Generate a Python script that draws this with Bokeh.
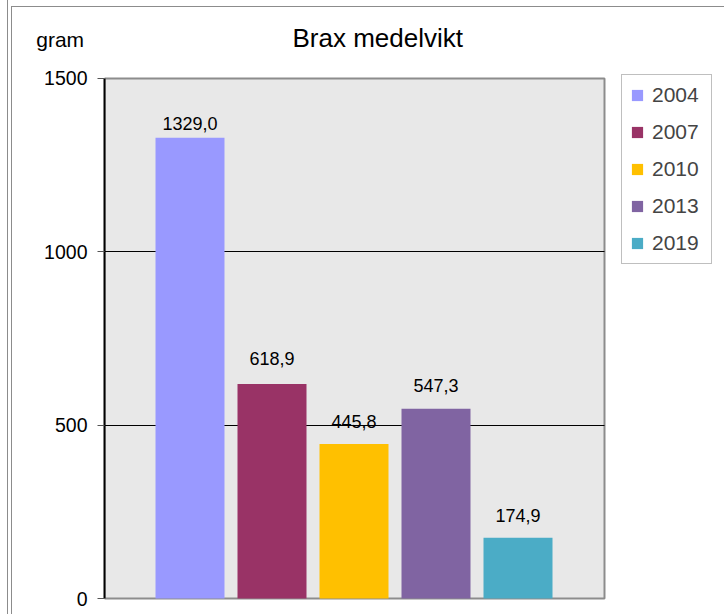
from bokeh.plotting import figure
from bokeh.models import (ColumnDataSource, Range1d, FixedTicker, Legend, LegendItem)
from bokeh.embed import file_html
from bokeh.resources import INLINE

# ---- data ----
years = ["2004", "2007", "2010", "2013", "2019"]
weights = [1329.0, 618.9, 445.8, 547.3, 174.9]
colors = ["#9999ff", "#993366", "#ffc000", "#8064a2", "#4bacc6"]
y_ticks = [0, 500, 1000, 1500]
title_text = "Brax medelvikt"
unit_text = "gram"

# ---- style ----
label_offsets = [14, 25, 22, 23, 22]   # px above bar top to label centre
FONT = "Liberation Sans"
FRAME_GRAY = "#8c8c8c"
PX_PER_CAT = 82          # px per category slot
PLOT_W = 500             # px width of the grey plot area
FRAME_W = 620            # px width of the drawing frame (incl. legend space)
PLOT_H = 521             # px height of the grey plot area
X_START = -85.5 / PX_PER_CAT
X_PLOT_END = X_START + PLOT_W / PX_PER_CAT
X_END = X_START + FRAME_W / PX_PER_CAT
Y_MIN, Y_MAX = min(y_ticks), max(y_ticks)
UNITS_PER_PX = (Y_MAX - Y_MIN) / PLOT_H
Y_START = Y_MIN - 2 * UNITS_PER_PX
Y_END = Y_MAX + 6 * UNITS_PER_PX

src = ColumnDataSource(dict(
    x=list(range(len(years))),
    value=weights,
    year=years,
    color=colors,
    label=[f"{w:.1f}".replace(".", ",") for w in weights],
    yoff=[-o for o in label_offsets],
))

bg = ("linear-gradient(#8c8c8c,#8c8c8c) 7px 0px / 1px 100% no-repeat, "
      "linear-gradient(#8c8c8c,#8c8c8c) 11px 6px / 1px 100% no-repeat, "
      "linear-gradient(#8c8c8c,#8c8c8c) 11px 6px / 100% 1px no-repeat, white")

p = figure(width=724, height=614, output_backend="svg", toolbar_location=None,
           x_range=Range1d(X_START, X_END),
           y_range=Range1d(Y_START, Y_END),
           min_border_left=104, min_border_right=0, min_border_top=0,
           min_border_bottom=14, styles={"background": bg})
p.background_fill_color = None
p.border_fill_color = None
p.outline_line_color = None

# grey plot area with its border
p.quad(left=[X_START], right=[X_PLOT_END], bottom=[Y_MIN], top=[Y_MAX],
       fill_color="#e8e8e8", line_color=FRAME_GRAY, line_width=2, level="image")

r = p.vbar(x="x", top="value", width=69 / PX_PER_CAT, color="color", line_color=None,
           source=src)

p.text(x="x", y="value", text="label", source=src, y_offset="yoff",
       text_align="center", text_baseline="middle", text_font_size="18px",
       text_font={"value": FONT}, text_color="#000000")

# title
p.title.text = title_text
p.title.align = "left"
p.title.offset = 188
p.title.standoff = 40
p.title.text_font = FONT
p.title.text_font_size = "26px"
p.title.text_font_style = "normal"
p.title.text_color = "black"

# axes
p.xaxis.visible = False
yax = p.yaxis[0]
yax.ticker = FixedTicker(ticks=y_ticks)
yax.bounds = (Y_MIN, Y_MAX)
yax.axis_line_color = "black"
yax.axis_line_width = 2
yax.major_tick_out = 7
yax.major_tick_in = 0
yax.major_tick_line_color = "#555555"
yax.minor_tick_line_color = None
yax.major_label_standoff = 10
yax.major_label_text_font = FONT
yax.major_label_text_font_size = "19.5px"
yax.major_label_text_color = "black"

yax.axis_label = unit_text + "\n\n"
yax.axis_label_text_font = FONT
yax.axis_label_text_font_size = "21px"
yax.axis_label_text_font_style = "normal"
yax.axis_label_text_color = "black"
yax.axis_label_text_line_height = 1.45
props = yax.properties()
if "axis_label_orientation" in props:
    yax.axis_label_orientation = "horizontal"
if "axis_label_align" in props:
    yax.axis_label_align = "end"
yax.axis_label_standoff = -43

# horizontal grid lines only inside the grey area
p.xgrid.visible = False
inner_ticks = [t for t in y_ticks if Y_MIN < t < Y_MAX]
if "cross_bounds" in p.ygrid[0].properties():
    p.ygrid.ticker = FixedTicker(ticks=inner_ticks)
    p.ygrid.cross_bounds = (X_START, X_PLOT_END)
    p.ygrid.grid_line_color = "black"
    p.ygrid.grid_line_width = 1
else:
    p.ygrid.visible = False
    p.segment(x0=[X_START] * len(inner_ticks), x1=[X_PLOT_END] * len(inner_ticks),
              y0=inner_ticks, y1=inner_ticks, line_color="black", line_width=1,
              level="underlay")

# legend
items = [LegendItem(label=y, renderers=[r], index=i) for i, y in enumerate(years)]
legend = Legend(items=items, location=(517, 336), orientation="vertical",
                label_text_font=FONT, label_text_font_size="21px",
                glyph_width=14, glyph_height=14, label_standoff=8,
                label_width=51, label_height=24, spacing=13, padding=8,
                border_line_color="#7f7f7f", border_line_width=1,
                background_fill_color="white", background_fill_alpha=1,
                margin=0)
p.add_layout(legend, "center")

open("out.html", "w").write(file_html(p, INLINE))
